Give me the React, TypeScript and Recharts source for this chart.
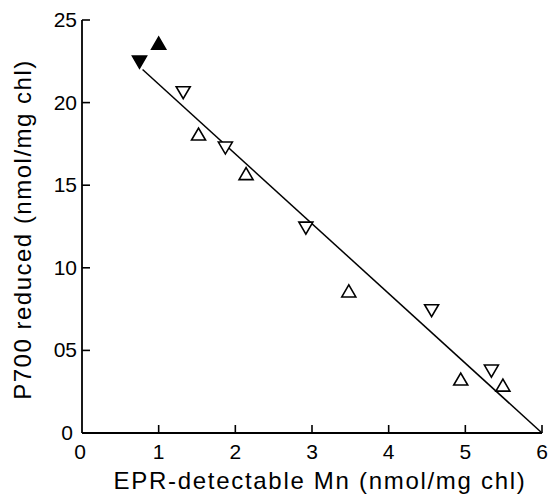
import { ScatterChart, Scatter, XAxis, YAxis } from "recharts"

// EPR-detectable Mn vs P700 reduced
const filledUp = [{ mn: 1.0, p700: 23.6 }]
const filledDown = [{ mn: 0.75, p700: 22.45 }]
const openUp = [
    { mn: 1.52, p700: 18.1 },
    { mn: 2.14, p700: 15.7 },
    { mn: 3.48, p700: 8.6 },
    { mn: 4.94, p700: 3.27 },
    { mn: 5.49, p700: 2.9 },
]
const openDown = [
    { mn: 1.32, p700: 20.6 },
    { mn: 1.87, p700: 17.25 },
    { mn: 2.92, p700: 12.4 },
    { mn: 4.56, p700: 7.4 },
    { mn: 5.34, p700: 3.75 },
]
const fitLine = [
    { mn: 0.79, p700: 22.0 },
    { mn: 6, p700: 0 },
]
const xTicks = [0, 1, 2, 3, 4, 5, 6]
const yTicks = [0, 5, 10, 15, 20, 25]
const yTickLabels: Record<number, string> = { 0: "0", 5: "05", 10: "10", 15: "15", 20: "20", 25: "25" }

const FONT = "'Liberation Sans', Arial, sans-serif"

const Triangle = (props: any) => {
    const { cx, cy, down, filled } = props
    const w = 7
    const h = 12
    const pts = down
        ? `${cx - w},${cy - h / 2} ${cx + w},${cy - h / 2} ${cx},${cy + h / 2}`
        : `${cx - w},${cy + h / 2} ${cx + w},${cy + h / 2} ${cx},${cy - h / 2}`
    return <polygon points={pts} fill={filled ? "#000" : "#fff"} stroke="#000" strokeWidth={1.6} />
}

const XTick = (props: any) => {
    const { x, y, payload } = props
    return (
        <g>
            {payload.value !== 0 && <line x1={x} y1={y} x2={x} y2={y - 8} stroke="#000" strokeWidth={1.6} />}
            <text x={payload.value === 0 ? x - 2 : x} y={y + 26} textAnchor="middle" fontFamily={FONT} fontSize={21} fill="#000">
                {payload.value}
            </text>
        </g>
    )
}

const YTick = (props: any) => {
    const { x, y, payload } = props
    if (payload.value === 0) {
        return (
            <text x={x - 15} y={y + 7} textAnchor="middle" fontFamily={FONT} fontSize={21} fill="#000">
                0
            </text>
        )
    }
    return (
        <g>
            <line x1={x} y1={y} x2={x + 8} y2={y} stroke="#000" strokeWidth={1.6} />
            <text x={x - 5} y={y + 7} textAnchor="end" fontFamily={FONT} fontSize={21} fill="#000">
                {yTickLabels[payload.value]}
            </text>
        </g>
    )
}

export default function App() {
    return (
        <div style={{ position: "absolute", left: 0, top: 0, background: "#fff" }}>
            <ScatterChart width={553} height={500} margin={{ top: 20, right: 11, bottom: 0, left: 0 }}>
                <XAxis
                    type="number"
                    dataKey="mn"
                    domain={[0, 6]}
                    ticks={xTicks}
                    interval={0}
                    tickSize={0}
                    tickMargin={0}
                    tickLine={false}
                    tick={<XTick />}
                    height={67}
                    axisLine={{ stroke: "#000", strokeWidth: 1.8 }}
                    label={{
                        value: "EPR-detectable Mn (nmol/mg chl)",
                        position: "insideBottom",
                        offset: 11,
                        dx: 8,
                        style: { fontFamily: FONT, fontSize: 24, letterSpacing: 1.7, fill: "#000" },
                    }}
                />
                <YAxis
                    type="number"
                    dataKey="p700"
                    domain={[0, 25]}
                    ticks={yTicks}
                    interval={0}
                    tickSize={0}
                    tickMargin={0}
                    tickLine={false}
                    tick={<YTick />}
                    width={82}
                    axisLine={{ stroke: "#000", strokeWidth: 1.8 }}
                    label={{
                        value: "P700 reduced (nmol/mg chl)",
                        angle: -90,
                        position: "insideLeft",
                        offset: 22,
                        dy: 3,
                        style: { fontFamily: FONT, fontSize: 24, letterSpacing: 1.5, fill: "#000", textAnchor: "middle" },
                    }}
                />
                <Scatter
                    data={fitLine}
                    line={{ stroke: "#000", strokeWidth: 1.5 }}
                    shape={() => <g />}
                    isAnimationActive={false}
                />
                <Scatter data={openUp} shape={<Triangle />} isAnimationActive={false} />
                <Scatter data={openDown} shape={<Triangle down />} isAnimationActive={false} />
                <Scatter data={filledUp} shape={<Triangle filled />} isAnimationActive={false} />
                <Scatter data={filledDown} shape={<Triangle down filled />} isAnimationActive={false} />
            </ScatterChart>
        </div>
    )
}
